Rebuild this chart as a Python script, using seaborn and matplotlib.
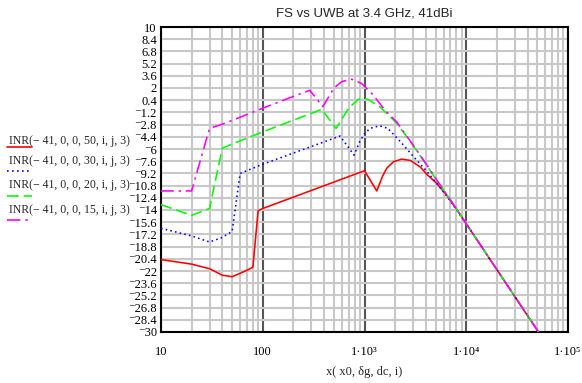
import numpy as np
import pandas as pd
import matplotlib
matplotlib.use("Agg")
import matplotlib.pyplot as plt
from matplotlib.lines import Line2D
from matplotlib.ticker import FixedLocator, LogLocator, NullFormatter
import seaborn as sns

# INR curves versus distance (log x), one per FS parameter set
x_red = [10, 20, 30, 40, 50, 60, 70, 80, 90, 100, 1000, 1320, 1500, 1660, 1930,
         2320, 2830, 3560, 4080, 5120, 6460, 8040, 10000, 100000]
inr_red = [-20.5, -21.1, -21.7, -22.55, -22.75, -22.3, -21.9, -21.5, -14.1, -13.8,
           -8.85, -11.5, -9.6, -8.5, -7.66, -7.33, -7.5, -8.4, -9.3, -10.5, -12.1,
           -13.9, -15.8, -35.8]

x_blue = [10, 20, 30, 40, 50, 60, 100, 575, 790, 900, 1000, 1130, 1410, 1700, 2240,
          3030, 4080, 5120, 6460, 8040, 10000, 100000]
inr_blue = [-16.4, -17.4, -18.2, -17.6, -16.8, -9.2, -8.0, -4.3, -6.8, -5.0, -4.0,
            -3.3, -2.95, -3.3, -5.0, -7.0, -8.9, -10.5, -12.2, -14.0, -15.8, -35.8]

x_green = [10, 20, 30, 40, 50, 100, 380, 525, 700, 865, 1000, 1100, 1410, 1530, 2070,
           3030, 4080, 5120, 6460, 8040, 10000, 100000]
inr_green = [-13.3, -14.7, -13.8, -5.9, -5.35, -3.75, -0.8, -3.3, -0.65, 0.5, 0.62,
             0.45, -0.45, -0.9, -2.6, -5.6, -8.1, -10.1, -12.0, -13.9, -15.8, -35.8]

x_mag = [10, 20, 30, 40, 50, 100, 200, 290, 390, 500, 600, 750, 935, 1215, 1585, 2070,
         3030, 4080, 5120, 6460, 8040, 10000, 100000]
inr_mag = [-11.5, -11.5, -3.3, -2.75, -2.25, -0.65, 0.9, 1.7, -0.45, 2.0, 2.85, 3.15,
           2.6, 1.1, -0.9, -2.45, -5.55, -8.05, -10.05, -12.0, -13.9, -15.8, -35.8]

labels = ["INR(\u2212 41, 0, 0, 50, i, j, 3)",
          "INR(\u2212 41, 0, 0, 30, i, j, 3)",
          "INR(\u2212 41, 0, 0, 20, i, j, 3)",
          "INR(\u2212 41, 0, 0, 15, i, j, 3)"]
x_ticks = [10, 100, 1000, 10000, 100000]
x_ticklabels = ["10", "100", "1\u00b710\u00b3", "1\u00b710\u2074", "1\u00b710\u2075"]
y_ticks = np.round(np.arange(-30, 10.01, 1.6), 1)

sns.set_theme(style="white")
plt.rcParams["font.family"] = ["Liberation Serif", "DejaVu Serif"]

W, H = 582, 383
fig = plt.figure(figsize=(W / 100, H / 100), dpi=100)
L, R, T, B = 161, 568, 27, 332
ax = fig.add_axes([L / W, 1 - B / H, (R - L) / W, (B - T) / H])

series = [
    (x_red, inr_red, "#ff0000", "-"),
    (x_blue, inr_blue, "#0000ff", (0, (1, 2))),
    (x_green, inr_green, "#00ff00", (0, (7, 3))),
    (x_mag, inr_mag, "#ff00ff", (0, (8, 3, 1.5, 3))),
]
for xs, ys, col, ls in series:
    df = pd.DataFrame({"x": xs, "inr": ys})
    sns.lineplot(data=df, x="x", y="inr", ax=ax, color=col, linestyle=ls,
                 linewidth=1.15, estimator=None, legend=False, zorder=3)

ax.set_xscale("log")
ax.set_xlim(10, 1e5)
ax.set_ylim(-30, 10)

ax.xaxis.set_major_locator(FixedLocator(x_ticks))
ax.set_xticklabels(x_ticklabels)
ax.xaxis.set_minor_locator(LogLocator(base=10, subs=np.arange(2, 10)))
ax.xaxis.set_minor_formatter(NullFormatter())
ax.set_yticks(y_ticks)
ax.set_yticklabels([("\u207b" if v < 0 else "") + f"{abs(v):g}" for v in y_ticks])

ax.set_axisbelow(True)
ax.grid(which="minor", axis="x", color="#c8c8c8", linewidth=1.5)
ax.grid(which="major", axis="x", color="#555555", linewidth=1.5)
ax.grid(which="major", axis="y", color="#c8c8c8", linewidth=1.5)

ax.tick_params(axis="both", which="both", length=0, labelsize=9, colors="black")
ax.tick_params(axis="x", pad=10)
ax.tick_params(axis="y", pad=3)
for s in ax.spines.values():
    s.set_color("black")
    s.set_linewidth(1.5)

ax.set_xlabel("x( x0, \u03b4g, dc, i)", fontsize=9, labelpad=6)
ax.set_ylabel("")
fig.text((L + R) / 2 / W, 1 - 13 / H, "FS vs UWB at 3.4 GHz, 41dBi",
         ha="center", va="center", fontsize=9.5,
         family=["Liberation Sans", "DejaVu Sans"])

# legend block at the left: label text above a short line sample
text_y = [141, 161, 185, 210]
line_y = [147, 171, 196, 220]
for (xs, ys, col, ls), lab, ty, ly in zip(series, labels, text_y, line_y):
    fig.text(9 / W, 1 - ty / H, lab, ha="left", va="center", fontsize=8.5)
    fig.add_artist(Line2D([7 / W, 32 / W], [1 - ly / H, 1 - ly / H],
                          transform=fig.transFigure, color=col, linestyle=ls,
                          linewidth=1.2))

fig.savefig("out.png", dpi=100)
